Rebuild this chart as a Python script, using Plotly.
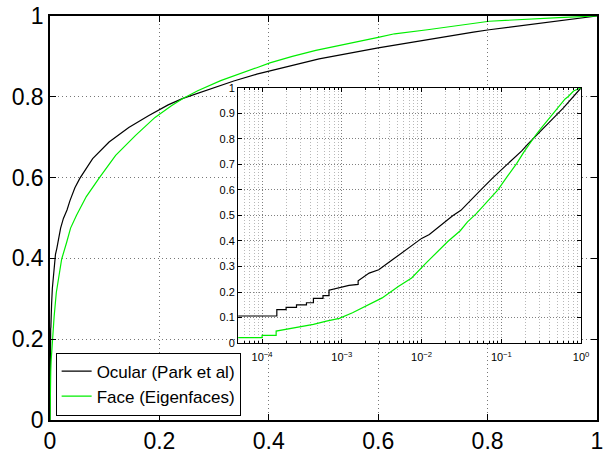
import plotly.graph_objects as go

# ---- data (FPR, TPR) ----
ocular_fpr = [0, 1e-5, 1.53e-4, 1.53e-4, 2.0e-4, 2.0e-4, 2.7e-4, 2.7e-4, 3.6e-4, 3.6e-4,
              4.4e-4, 4.4e-4, 5.8e-4, 5.8e-4, 6.9e-4, 6.9e-4, 9.3e-4, 1.23e-3, 1.6e-3, 1.6e-3,
              2.2e-3, 2.9e-3, 4.3e-3, 6.2e-3, 0.01, 0.0125, 0.0194, 0.0245, 0.0311, 0.0365,
              0.0455, 0.0545, 0.078, 0.108, 0.144, 0.18, 0.216, 0.243, 0.294, 0.336,
              0.378, 0.402, 0.443, 0.492, 0.60, 0.69, 0.774, 0.803, 1.0]
ocular_tpr = [0, 0.106, 0.106, 0.131, 0.131, 0.140, 0.140, 0.150, 0.150, 0.158,
              0.158, 0.175, 0.175, 0.186, 0.186, 0.207, 0.217, 0.226, 0.230, 0.244,
              0.274, 0.287, 0.326, 0.361, 0.41, 0.425, 0.475, 0.499, 0.52, 0.543,
              0.575, 0.598, 0.647, 0.688, 0.724, 0.753, 0.780, 0.796, 0.820, 0.839,
              0.856, 0.864, 0.878, 0.894, 0.921, 0.942, 0.96, 0.966, 1.0]

face_fpr = [0, 1e-5, 1.0e-4, 1.0e-4, 1.5e-4, 1.5e-4, 2.0e-4, 2.7e-4, 4.4e-4, 6.4e-4,
            9.3e-4, 1.36e-3, 2.0e-3, 3.2e-3, 5.1e-3, 7.5e-3, 0.0115, 0.0213, 0.0305, 0.0376,
            0.0485, 0.0664, 0.0904, 0.12, 0.156, 0.192, 0.222, 0.243, 0.27, 0.312,
            0.378, 0.402, 0.443, 0.486, 0.60, 0.63, 0.69, 0.774, 0.803, 0.93, 1.0]
face_tpr = [0, 0.019, 0.021, 0.030, 0.030, 0.047, 0.054, 0.063, 0.073, 0.086,
            0.097, 0.119, 0.145, 0.177, 0.222, 0.255, 0.315, 0.398, 0.44, 0.475,
            0.507, 0.553, 0.60, 0.655, 0.704, 0.749, 0.778, 0.796, 0.815, 0.840,
            0.872, 0.884, 0.90, 0.915, 0.947, 0.956, 0.966, 0.981, 0.987, 0.996, 1.0]

main_ticks = [0, 0.2, 0.4, 0.6, 0.8, 1.0]
main_tick_text = ["0", "0.2", "0.4", "0.6", "0.8", "1"]
inset_y_ticks = [0, 0.1, 0.2, 0.3, 0.4, 0.5, 0.6, 0.7, 0.8, 0.9, 1.0]
inset_y_text = ["0", "0.1", "0.2", "0.3", "0.4", "0.5", "0.6", "0.7", "0.8", "0.9", "1"]
inset_x_ticks = [1e-4, 1e-3, 1e-2, 1e-1, 1]
inset_x_text = ["10<sup>\u22124</sup>", "10<sup>\u22123</sup>", "10<sup>\u22122</sup>",
                "10<sup>\u22121</sup>", "10<sup>0</sup>"]

names = ["Ocular (Park et al)", "Face (Eigenfaces)"]
colors = ["#000000", "#00ee00"]

FONT = "Liberation Sans, Arial, Helvetica, sans-serif"

fig = go.Figure()
for fpr, tpr, name, col in [(ocular_fpr, ocular_tpr, names[0], colors[0]),
                            (face_fpr, face_tpr, names[1], colors[1])]:
    fig.add_trace(go.Scatter(x=fpr, y=tpr, mode="lines", name=name,
                             line=dict(color=col, width=1.2), xaxis="x", yaxis="y"))
for fpr, tpr, name, col in [(ocular_fpr, ocular_tpr, names[0], colors[0]),
                            (face_fpr, face_tpr, names[1], colors[1])]:
    fig.add_trace(go.Scatter(x=fpr, y=tpr, mode="lines", name=name, showlegend=False,
                             line=dict(color=col, width=1.2), xaxis="x2", yaxis="y2"))

grid_main = dict(showgrid=True, gridcolor="#777777", griddash="1px,3px", gridwidth=1,
                 zeroline=False, showline=True, linecolor="black", linewidth=1.5,
                 mirror="ticks", ticks="inside", ticklen=6, tickcolor="black",
                 tickfont=dict(family=FONT, size=23, color="black"))

fig.update_layout(
    width=605, height=454,
    margin=dict(l=50, r=0, t=16, b=31),
    paper_bgcolor="white", plot_bgcolor="white",
    font=dict(family=FONT, color="black"),
    xaxis=dict(domain=[0, 1], range=[0, 1], tickvals=main_ticks, ticktext=main_tick_text,
               **grid_main),
    yaxis=dict(domain=[0, 1], range=[0, 1], tickvals=main_ticks, ticktext=main_tick_text,
               **grid_main),
    xaxis2=dict(type="log", domain=[0.344, 0.971], range=[-4.3, 0], anchor="y2",
                tickvals=inset_x_ticks, ticktext=inset_x_text, ticklabelstandoff=4,
                showgrid=True, gridcolor="#808080", griddash="1px,2px", gridwidth=1,
                minor=dict(showgrid=True, gridcolor="#b8b8b8", griddash="1px,2px",
                           dtick="D1", ticks="inside", ticklen=2, tickcolor="black"),
                zeroline=False, showline=True, linecolor="black", linewidth=1.3,
                mirror="ticks", ticks="inside", ticklen=4, tickcolor="black",
                tickfont=dict(family=FONT, size=11, color="black")),
    yaxis2=dict(domain=[0.1904, 0.8224], range=[0, 1], anchor="x2",
                tickvals=inset_y_ticks, ticktext=inset_y_text,
                showgrid=True, gridcolor="#808080", griddash="1px,2px", gridwidth=1,
                zeroline=False, showline=True, linecolor="black", linewidth=1.3,
                mirror="ticks", ticks="inside", ticklen=4, tickcolor="black",
                tickfont=dict(family=FONT, size=11, color="black")),
    legend=dict(x=0.0103, y=0.011, xanchor="left", yanchor="bottom",
                bgcolor="white", bordercolor="black", borderwidth=1,
                font=dict(family=FONT, size=17, color="black"),
                tracegroupgap=0),
    showlegend=True,
)

fig.write_html("out.html")
